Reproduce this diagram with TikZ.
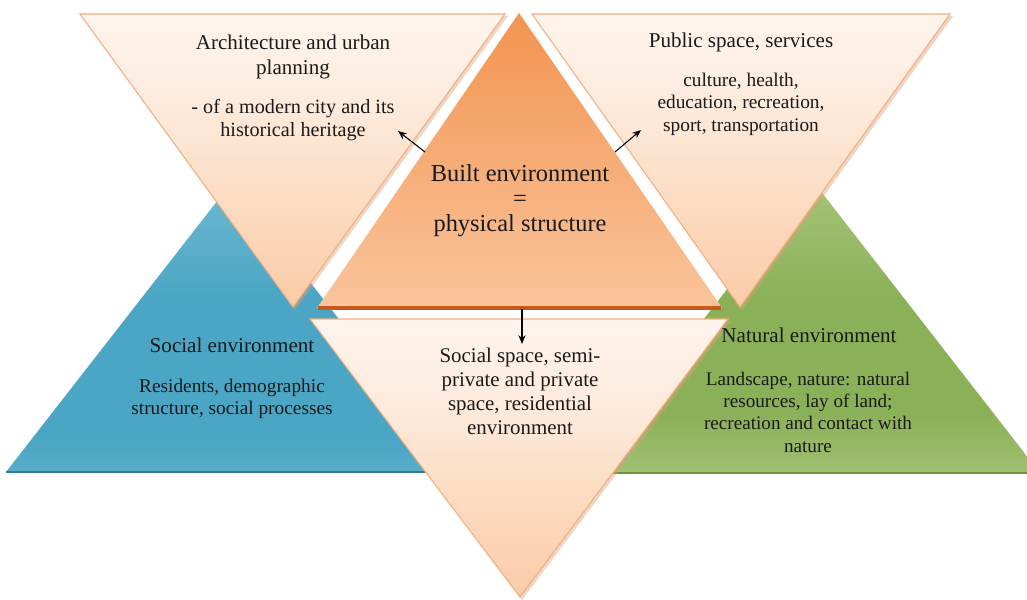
\documentclass[tikz,border=0pt]{standalone}
\usepackage{fontspec}
\setmainfont{Liberation Serif}
\usetikzlibrary{arrows.meta}
\definecolor{peachtop}{HTML}{FFFCFA}
\definecolor{peachmid}{HTML}{FDEBDD}
\definecolor{peachbot}{HTML}{FBCBA6}
\definecolor{peachedge}{HTML}{F3AE80}
\definecolor{peachshadow}{HTML}{D9A27C}
\definecolor{bluetop}{HTML}{9CD0DF}
\definecolor{bluemid}{HTML}{4AA6C4}
\definecolor{bluebot}{HTML}{8CCBDB}
\definecolor{blueedge}{HTML}{2F7D98}
\definecolor{greentop}{HTML}{C6DCA4}
\definecolor{greenmid}{HTML}{8BB158}
\definecolor{greenbot}{HTML}{C3DAA0}
\definecolor{greenedge}{HTML}{6C963B}
\definecolor{orangetop}{HTML}{EE7C2A}
\definecolor{orangebot}{HTML}{FAC49C}
\definecolor{orangeedge}{HTML}{C5591C}
\definecolor{textc}{HTML}{1A1A1A}
\pgfdeclareverticalshading{blueshade}{100bp}{color(0bp)=(bluebot); color(8bp)=(bluebot); color(30bp)=(bluemid); color(55bp)=(bluemid); color(100bp)=(bluetop)}
\pgfdeclareverticalshading{greenshade}{100bp}{color(0bp)=(greenbot); color(8bp)=(greenbot); color(35bp)=(greenmid); color(55bp)=(greenmid); color(100bp)=(greentop)}
\pgfdeclareverticalshading{orangeshade}{100bp}{color(0bp)=(orangebot); color(25bp)=(orangebot); color(100bp)=(orangetop)}
\pgfdeclareverticalshading{peachshade}{100bp}{color(0bp)=(peachbot); color(25bp)=(peachbot); color(60bp)=(peachmid); color(88bp)=(peachtop); color(100bp)=(peachtop)}
\begin{document}
\begin{tikzpicture}[x=0.02cm,y=-0.02cm,
  inv/.style={draw=peachedge, line width=0.6pt, line join=miter, shading=peachshade},
  shadow/.style={fill=peachshadow, fill opacity=0.45, draw=none},
  lbl/.style={align=center, text=textc, inner sep=0pt, font=\fontsize{12}{14.2}\selectfont},
  conn/.style={-{Stealth[length=5pt,width=4pt]}, line width=0.6pt, black}
]
\useasboundingbox (0,0) rectangle (1027,599);
\clip (0,0) rectangle (1027,599);

% social environment (blue)
\shade[shading=blueshade] (6,472) -- (232,182) -- (458,472) -- cycle;
\draw[blueedge, line width=1.4pt] (6,472) -- (458,472);
% natural environment (green)
\shade[shading=greenshade] (584,473) -- (812,180) -- (1040,473) -- cycle;
\draw[greenedge, line width=1.4pt] (584,473) -- (1040,473);

% top inverted triangles
\fill[shadow] (82,16) -- (508,16) -- (295,310) -- cycle;
\path[inv] (80,14) -- (505,14) -- (293,307) -- cycle;
\fill[shadow] (534,16) -- (953,16) -- (742,310) -- cycle;
\path[inv] (532,14) -- (950,14) -- (740,307) -- cycle;

% built environment (orange)
\shade[shading=orangeshade] (317,308) -- (519,13) -- (722,308) -- cycle;
\draw[orangeedge, line width=1.8pt] (318,308) -- (721,308);

% bottom inverted triangle
\fill[shadow] (312,321) -- (731,321) -- (522,600) -- cycle;
\path[inv] (310,319) -- (728,319) -- (520,597) -- cycle;

% texts
\node[lbl, font=\fontsize{12}{14.3}\selectfont] (archT) at (293,57) {Architecture and urban\\planning};
\node[lbl, font=\fontsize{11.5}{13.2}\selectfont] (archB) at (293,120) {- of a modern city and its\\historical heritage};
\node[lbl] (pubT) at (741,42) {Public space, services};
\node[lbl, font=\fontsize{11}{12.8}\selectfont] (pubB) at (741,104) {culture, health,\\education, recreation,\\sport, transportation};
\node[lbl, font=\fontsize{13.9}{14.3}\selectfont] (built) at (520,201) {Built environment\\=\\physical structure};
\node[lbl] (socT) at (232,345) {Social environment};
\node[lbl, font=\fontsize{11}{12.8}\selectfont] (socB) at (232,399) {Residents, demographic\\structure, social processes};
\node[lbl] (natT) at (809,335) {Natural environment};
\node[lbl, font=\fontsize{10.9}{12.7}\selectfont] (natB) at (808,412) {Landscape, nature: natural\\resources, lay of land;\\recreation and contact with\\nature};
\node[lbl, font=\fontsize{11.9}{13.7}\selectfont] (socsp) at (520,391) {Social space, semi-\\private and private\\space, residential\\environment};

% arrows
\coordinate (a1s) at (425,152);
\coordinate (a1e) at (398,131);
\coordinate (a2s) at (615,152);
\coordinate (a2e) at (641,130);
\coordinate (a3s) at (522,309);
\coordinate (a3e) at (522,344);
\draw[conn] (a1s) -- (a1e);
\draw[conn] (a2s) -- (a2e);
\draw[conn] (a3s) -- (a3e);
\end{tikzpicture}
\end{document}
